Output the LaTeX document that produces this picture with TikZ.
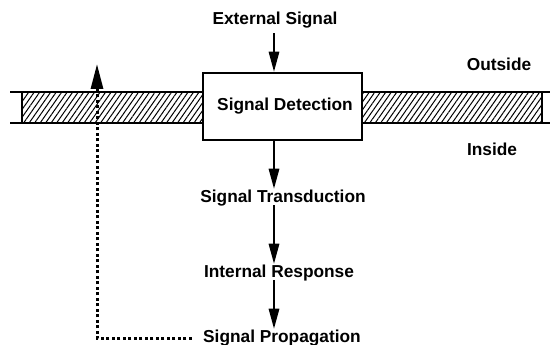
\documentclass[tikz,border=0pt]{standalone}
\usepackage{fontspec}
\setmainfont{Liberation Sans}
\usetikzlibrary{arrows.meta,patterns.meta}
\begin{document}
\begin{tikzpicture}[x=1pt,y=-1pt,
  lbl/.style={font=\fontsize{17.3}{20}\selectfont\bfseries, inner sep=2pt},
  flow/.style={line width=1.6pt,-{Triangle[length=20pt,width=10.5pt]}},
  membrane/.style={line width=2.7pt},
  hatch/.style={pattern={Lines[angle=55,distance=4.5pt,line width=1pt]}, draw, line width=1.6pt},
  detbox/.style={draw, line width=2.7pt, fill=white, minimum width=159pt, minimum height=67pt, inner sep=0pt, font=\fontsize{17.3}{20}\selectfont\bfseries}
]
\useasboundingbox (0,0) rectangle (550,345);
% membrane
\path[hatch] (22,92) rectangle (203,123);
\path[hatch] (362,92) rectangle (542,123);
\draw[membrane] (10,92) -- (203,92) (10,123) -- (203,123);
\draw[membrane] (362,92) -- (550,92) (362,123) -- (550,123);
% nodes
\node[lbl] (ext) at (275,20) {External Signal};
\node[detbox] (det) at (282.5,106.5) {\hspace*{5pt}Signal Detection};
\node[lbl] (trans) at (283,198) {Signal Transduction};
\node[lbl] (resp) at (279,273) {Internal Response};
\node[lbl] (prop) at (282,338) {Signal Propagation};
\node[lbl] (outside) at (499,64) {Outside};
\node[lbl] (inside) at (492,149) {Inside};
\coordinate (axis) at (274,0);
\coordinate (ptop) at (97,64);
% arrows
\draw[flow] (ext.south -| axis) ++(0,3) -- (det.north -| axis);
\draw[flow] (det.south -| axis) -- ([yshift=-1pt]trans.north -| axis);
\draw[flow] ([yshift=3pt]trans.south -| axis) -- ([yshift=-1pt]resp.north -| axis);
\draw[flow] ([yshift=3pt]resp.south -| axis) -- ([yshift=-1pt]prop.north -| axis);
\draw[line width=3pt, dash pattern=on 3pt off 2.5pt, -{Triangle[length=25pt,width=12pt]}, shorten <=9pt]
  (prop.west) -| (ptop);
\end{tikzpicture}
\end{document}
